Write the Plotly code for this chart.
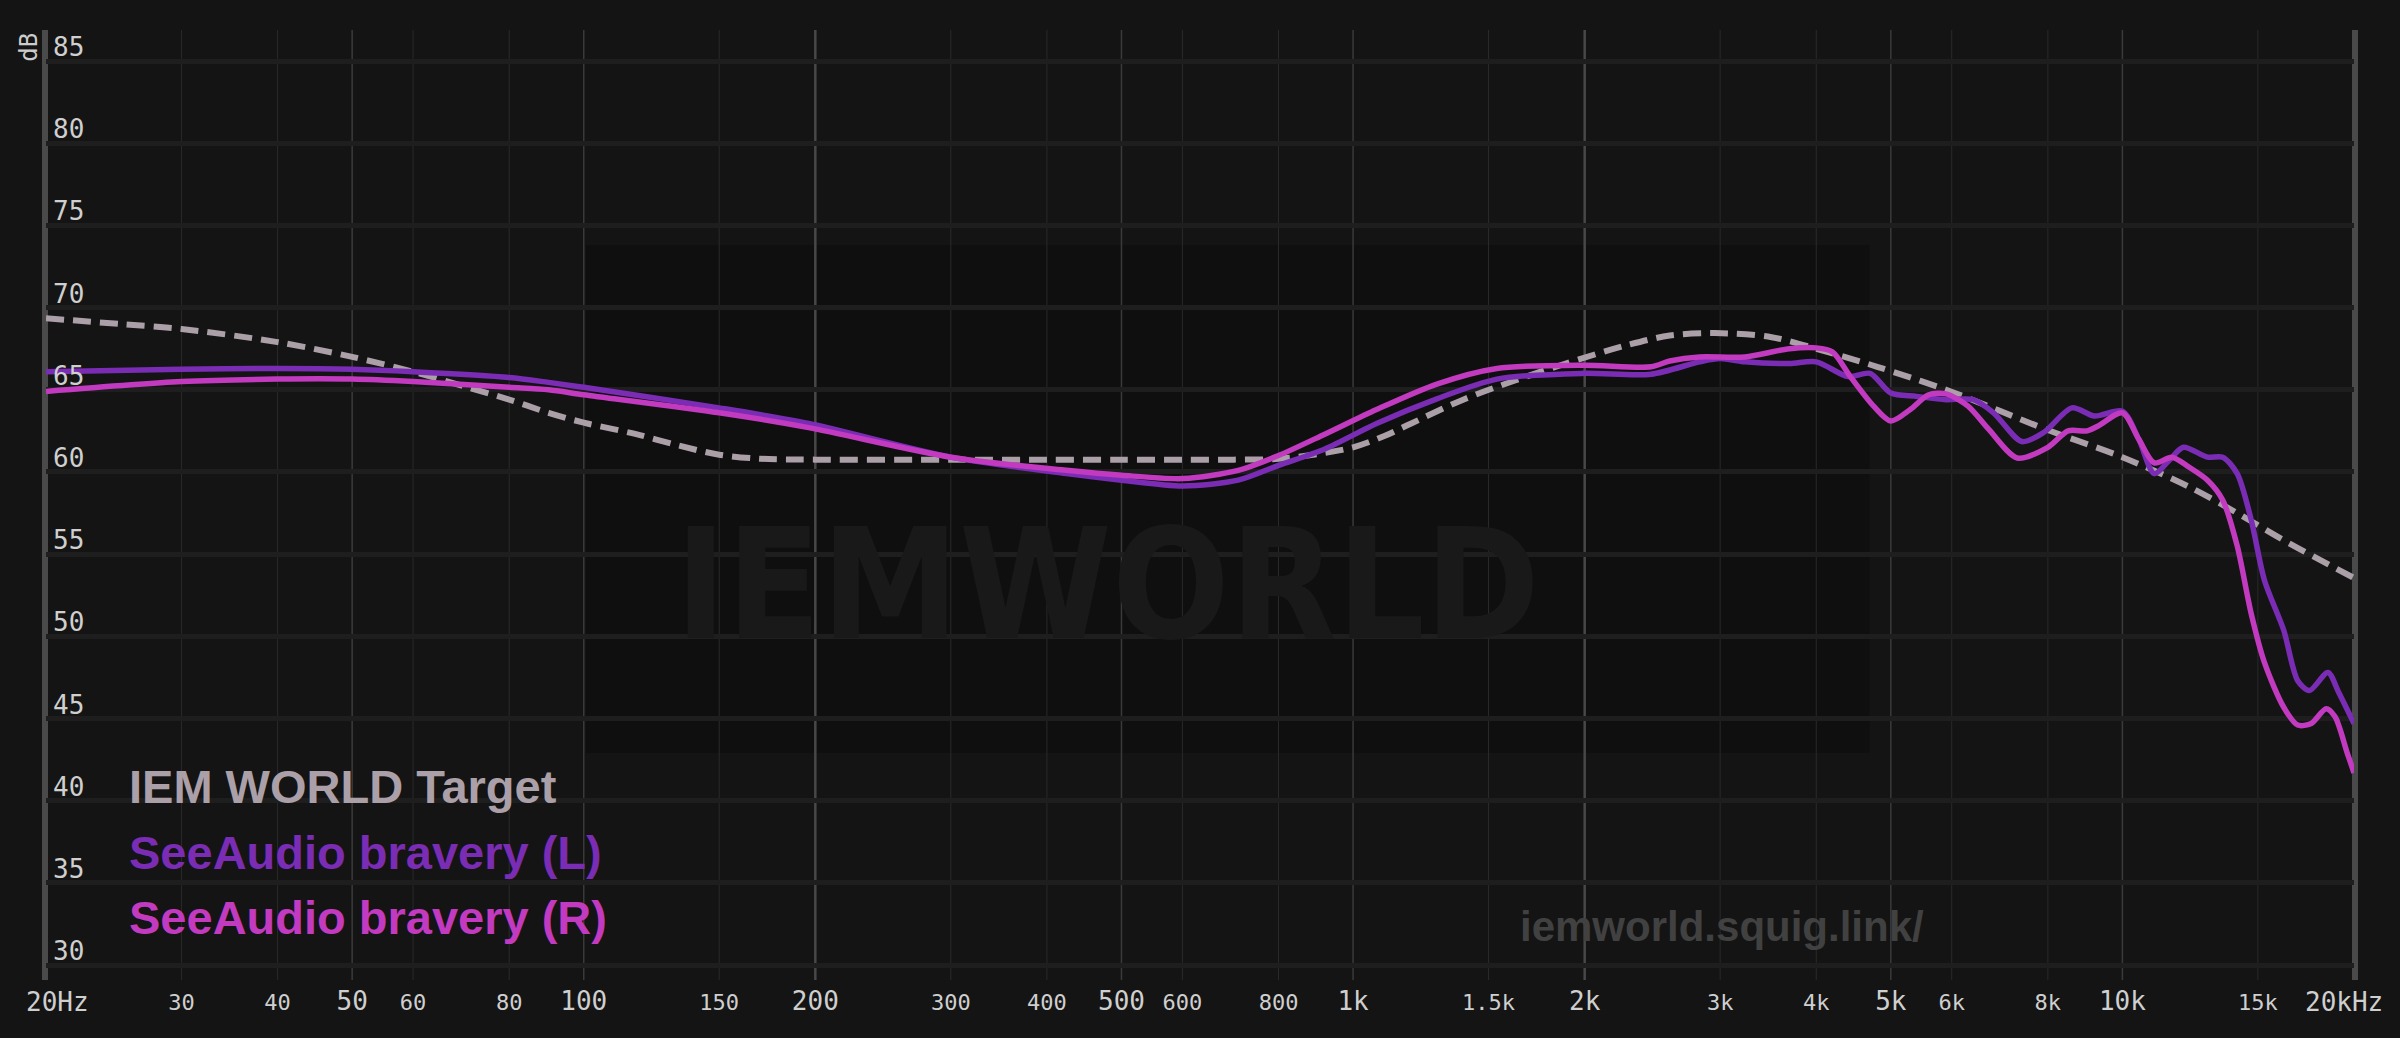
import math
import plotly.graph_objects as go

# ---------------- data ----------------
target_freq = [20, 25, 30, 40, 50, 60, 70, 80, 90, 100, 117, 133, 150, 170, 200, 300, 400, 500, 600, 700, 800,
               873, 1000, 1100, 1190, 1390, 1620, 1890, 2265, 2580, 2950, 3500, 4100, 4800, 5900, 8000,
               10000, 12200, 14100, 16200, 20000]
target_db = [69.35, 69.0, 68.7, 67.9, 67.0, 66.1, 65.2, 64.4, 63.6, 63.0, 62.3, 61.6, 61.05, 60.8, 60.75, 60.75,
             60.75, 60.75, 60.75, 60.75, 60.8, 61.0, 61.5, 62.2, 62.95, 64.4, 65.55, 66.6, 67.7, 68.3, 68.45,
             68.2, 67.35, 66.4, 65.0, 62.55, 60.9, 59.1, 57.5, 55.85, 53.55]

left_freq = [20, 30, 40, 50, 60, 80, 90, 100, 150, 196, 300, 424, 500, 601, 709, 800, 919, 1073, 1285, 1538,
             1990, 2440, 2820, 3000, 3230, 3690, 4000, 4400, 4700, 5000, 5400, 5900, 6400, 6800, 7400, 7900,
             8600, 9200, 10000, 10500, 11000, 11500, 12000, 12900, 13500, 14100, 14700, 15300, 16200, 16900,
             17500, 18500, 19100, 20000]
left_db = [66.1, 66.25, 66.3, 66.25, 66.1, 65.75, 65.45, 65.15, 63.9, 62.95, 60.9, 59.9, 59.5, 59.15, 59.5,
           60.4, 61.4, 62.95, 64.45, 65.65, 66.0, 65.95, 66.7, 66.9, 66.7, 66.6, 66.7, 65.8, 66.0, 64.8, 64.6,
           64.4, 64.4, 63.6, 61.85, 62.4, 63.9, 63.4, 63.7, 62.0, 59.9, 60.7, 61.5, 60.9, 60.9, 59.9, 57.1,
           53.4, 50.4, 47.3, 46.7, 47.8, 46.6, 44.7]

right_freq = [20, 30, 40, 50, 60, 80, 90, 100, 150, 196, 300, 424, 500, 601, 709, 800, 919, 1073, 1285, 1538,
              1990, 2440, 2580, 2820, 3230, 3690, 4000, 4200, 4430, 4750, 5000, 5300, 5600, 5900, 6300, 6700,
              7300, 8000, 8500, 9000, 9300, 10000, 10500, 11000, 11600, 12200, 12900, 13500, 14100, 14700,
              15300, 16200, 16900, 17600, 18400, 18900, 19600, 20000]
right_db = [64.9, 65.5, 65.65, 65.65, 65.5, 65.15, 65.0, 64.7, 63.6, 62.7, 60.9, 60.1, 59.8, 59.6, 60.1, 61.0,
            62.3, 63.8, 65.35, 66.3, 66.5, 66.4, 66.75, 67.0, 67.0, 67.5, 67.55, 67.3, 65.8, 64.0, 63.1, 63.8,
            64.7, 64.75, 64.0, 62.6, 60.85, 61.5, 62.5, 62.5, 62.8, 63.6, 62.0, 60.55, 60.9, 60.3, 59.5, 58.3,
            55.5, 51.4, 48.4, 45.7, 44.6, 44.7, 45.6, 45.1, 42.9, 41.7]

series_names = ["IEM WORLD Target", "SeeAudio bravery (L)", "SeeAudio bravery (R)"]

x_minor_ticks = [30, 40, 60, 80, 150, 300, 400, 600, 800, 1500, 3000, 4000, 6000, 8000, 15000]
x_mid_ticks = [50, 100, 500, 1000, 5000, 10000]
x_strong_ticks = [200, 2000]
x_edge_ticks = [20, 20000]
x_tick_vals = [20, 30, 40, 50, 60, 80, 100, 150, 200, 300, 400, 500, 600, 800, 1000, 1500, 2000, 3000,
               4000, 5000, 6000, 8000, 10000, 15000, 20000]
x_tick_text = ["20Hz", "30", "40", "50", "60", "80", "100", "150", "200", "300", "400", "500", "600", "800",
               "1k", "1.5k", "2k", "3k", "4k", "5k", "6k", "8k", "10k", "15k", "20kHz"]
x_major_labels = ["20Hz", "50", "100", "200", "500", "1k", "2k", "5k", "10k", "20kHz"]
y_tick_vals = [30, 35, 40, 45, 50, 55, 60, 65, 70, 75, 80, 85]

# ---------------- style ----------------
BG = "#141414"
C_TARGET = "#aba0a8"
C_LEFT = "#7a2db4"
C_RIGHT = "#c23ac0"
MONO = "DejaVu Sans Mono, monospace"
SANS = "Liberation Sans, Arial, sans-serif"
TICK_COLOR = "#cfcfcf"

fig = go.Figure()

fig.add_trace(go.Scatter(x=target_freq, y=target_db, mode="lines", name=series_names[0],
                         line=dict(color=C_TARGET, width=6, dash="18px,9px", shape="spline", smoothing=0.9)))
fig.add_trace(go.Scatter(x=left_freq, y=left_db, mode="lines", name=series_names[1],
                         line=dict(color=C_LEFT, width=5.5, shape="spline", smoothing=0.8)))
fig.add_trace(go.Scatter(x=right_freq, y=right_db, mode="lines", name=series_names[2],
                         line=dict(color=C_RIGHT, width=5.5, shape="spline", smoothing=0.8)))

shapes = []
# watermark box
shapes.append(dict(type="rect", xref="paper", yref="paper", x0=0.234, x1=0.790, y0=0.239, y1=0.7737,
                   fillcolor="#0f0f0f", line=dict(width=0), layer="below"))
# vertical grid lines
for vals, col, w in [(x_minor_ticks, "#2a2a2a", 1), (x_mid_ticks, "#3a3a3a", 1.5),
                     (x_strong_ticks, "#484848", 2.5), (x_edge_ticks, "#4a4a4a", 4)]:
    for v in vals:
        shapes.append(dict(type="line", xref="x", yref="paper", x0=v, x1=v, y0=0, y1=1,
                           line=dict(color=col, width=w), layer="between"))

# interior tick labels on the axis; the two end labels are placed as annotations so they stay inside the page
ticktext = []
for i, t in enumerate(x_tick_text):
    if i == 0 or i == len(x_tick_text) - 1:
        ticktext.append("")
    elif t in x_major_labels:
        ticktext.append(t)
    else:
        ticktext.append('<span style="font-size:22px">' + t + '</span>')

annotations = []
annotations.append(dict(text=x_tick_text[0], xref="x", yref="paper", x=math.log10(x_tick_vals[0]), y=0,
                        xanchor="left", yanchor="middle", xshift=-22, yshift=-22, showarrow=False,
                        font=dict(family=MONO, size=26, color=TICK_COLOR)))
annotations.append(dict(text=x_tick_text[-1], xref="x", yref="paper", x=math.log10(x_tick_vals[-1]), y=0,
                        xanchor="right", yanchor="middle", xshift=31, yshift=-22, showarrow=False,
                        font=dict(family=MONO, size=26, color=TICK_COLOR)))
annotations.append(dict(text="dB", xref="paper", yref="paper", x=-0.0075, y=0.982, textangle=-90,
                        showarrow=False, xanchor="center", yanchor="middle",
                        font=dict(family=MONO, size=24, color="#cccccc")))
# y tick labels (drawn above their grid lines, inside the plot)
for v in y_tick_vals:
    annotations.append(dict(text=str(v), xref="paper", yref="y", x=0, y=v, xanchor="left", yanchor="middle",
                            xshift=5, yshift=14, showarrow=False,
                            font=dict(family=MONO, size=26, color=TICK_COLOR)))
# background watermark text
annotations.append(dict(text="<b>IEMWORLD</b>", xref="paper", yref="paper", x=0.46, y=0.416, showarrow=False,
                        xanchor="center", yanchor="middle",
                        font=dict(family="DejaVu Sans Condensed, DejaVu Sans, sans-serif",
                                  size=154, color="#191919")))
annotations.append(dict(text="<b>iemworld.squig.link/</b>", xref="paper", yref="paper", x=0.6377, y=0.0558,
                        showarrow=False, xanchor="left", yanchor="middle",
                        font=dict(family=SANS, size=42, color="#414141")))
# legend labels
for name, col, yp in zip(series_names, [C_TARGET, C_LEFT, C_RIGHT], [0.2042, 0.1337, 0.0653]):
    annotations.append(dict(text="<b>" + name + "</b>", xref="paper", yref="paper", x=0.0351, y=yp,
                            showarrow=False, xanchor="left", yanchor="middle",
                            font=dict(family=SANS, size=47, color=col)))

fig.update_layout(
    width=2400, height=1038,
    margin=dict(l=46, r=46, t=30, b=58),
    paper_bgcolor=BG, plot_bgcolor=BG,
    showlegend=False,
    shapes=shapes,
    annotations=annotations,
    xaxis=dict(type="log", range=[math.log10(20) - 1e-6, math.log10(20000) + 1e-6], tickvals=x_tick_vals,
               ticktext=ticktext, showgrid=False, zeroline=False, showline=False, ticks="",
               ticklabelstandoff=3,
               tickfont=dict(family=MONO, size=26, color=TICK_COLOR)),
    yaxis=dict(range=[29.09, 86.89], tickvals=y_tick_vals, showgrid=True, gridcolor="#1e1e1e", gridwidth=5,
               zeroline=False, showline=True, mirror=True, linecolor="#4a4a4a", linewidth=4,
               ticks="", showticklabels=False),
)

post = ("document.documentElement.style.margin='0';document.documentElement.style.overflow='hidden';"
        "document.body.style.margin='0';document.body.style.padding='0';document.body.style.overflow='hidden';"
        "document.body.style.background='#141414';"
        "var gd=document.getElementById('{plot_id}');gd.style.position='absolute';gd.style.left='0px';"
        "gd.style.top='0px';")
fig.write_html("out.html", config={"displayModeBar": False}, post_script=post)
